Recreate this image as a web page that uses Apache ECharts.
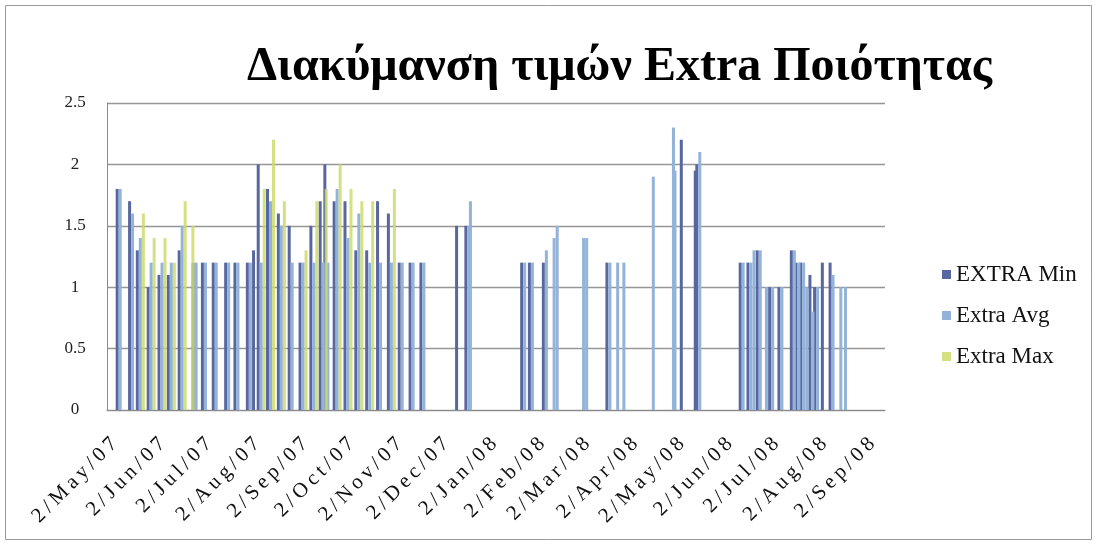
<!DOCTYPE html>
<html>
<head>
<meta charset="utf-8">
<script src="https://cdn.jsdelivr.net/npm/echarts@6/dist/echarts.min.js"></script>
<style>
  html, body { margin: 0; padding: 0; background: #ffffff; }
  #chart { width: 1099px; height: 547px; }
</style>
</head>
<body>
<div id="chart"></div>
<script>
// Price readings for "Extra" quality, one entry per observation date
const seriesNames = ['EXTRA Min', 'Extra Avg', 'Extra Max'];

const obsDates = [
  '2007-05-06', '2007-05-14', '2007-05-19', '2007-05-26', '2007-06-02', '2007-06-08',
  '2007-06-15', '2007-06-20', '2007-06-24', '2007-06-30', '2007-07-07', '2007-07-15',
  '2007-07-21', '2007-07-29', '2007-08-02', '2007-08-05', '2007-08-11', '2007-08-18',
  '2007-08-25', '2007-09-01', '2007-09-08', '2007-09-14', '2007-09-17', '2007-09-23',
  '2007-09-30', '2007-10-07', '2007-10-14', '2007-10-21', '2007-10-28', '2007-11-04',
  '2007-11-11', '2007-11-18', '2007-12-11', '2007-12-17', '2007-12-18', '2008-01-22',
  '2008-01-27', '2008-02-05', '2008-02-10', '2008-02-12', '2008-02-29', '2008-03-02',
  '2008-03-17', '2008-03-22', '2008-03-26', '2008-04-14', '2008-04-27', '2008-04-28',
  '2008-05-04', '2008-05-13', '2008-05-14', '2008-06-11', '2008-06-16', '2008-06-18',
  '2008-06-22', '2008-06-26', '2008-06-30', '2008-07-06', '2008-07-14', '2008-07-17',
  '2008-07-20', '2008-07-22', '2008-07-26', '2008-07-29', '2008-08-03', '2008-08-08',
  '2008-08-13', '2008-08-16'
];

const minVals = [
  1.8, 1.7, 1.3, 1.0, 1.1, 1.1,
  1.3, null, 1.2, 1.2, 1.2, 1.2,
  1.2, 1.2, 1.3, 2.0, 1.8, 1.6,
  1.5, 1.2, 1.5, 1.7, 2.0, 1.7,
  1.7, 1.3, 1.3, 1.7, 1.6, 1.2,
  1.2, 1.2, 1.5, 1.5, null, 1.2,
  1.2, 1.2, null, null, null, null,
  1.2, null, null, null, null, null,
  2.2, 1.95, 2.0, 1.2, 1.2, null,
  1.3, null, 1.0, 1.0, 1.3, 1.2,
  1.2, null, 1.1, 1.0, 1.2, 1.2,
  null, null
];

const avgVals = [
  1.8, 1.6, 1.4, 1.2, 1.2, 1.2,
  1.5, null, 1.2, 1.2, 1.2, 1.2,
  1.2, 1.2, null, 1.2, 1.7, 1.5,
  1.2, 1.2, 1.2, 1.2, 1.2, 1.8,
  1.4, 1.6, 1.2, 1.2, 1.2, 1.2,
  1.2, 1.2, null, 1.5, 1.7, 1.2,
  1.2, 1.3, 1.4, 1.5, 1.4, 1.4,
  1.2, 1.2, 1.2, 1.9, 2.3, 1.95,
  null, null, 2.1, 1.2, 1.2, 1.3,
  1.3, 1.0, 1.0, 1.0, 1.3, 1.2,
  1.2, 1.0, 0.8, 1.0, null, 1.1,
  1.0, 1.0
];

const maxVals = [
  null, null, 1.6, 1.4, 1.4, 1.2,
  1.7, 1.5, null, null, null, null,
  null, null, null, 1.8, 2.2, 1.7,
  null, 1.3, 1.7, 1.8, null, 2.0,
  1.8, 1.7, 1.7, null, 1.8, null,
  null, null, null, null, null, null,
  null, null, null, null, null, null,
  null, null, null, null, null, null,
  null, null, null, null, null, null,
  null, null, null, null, null, null,
  null, null, null, null, null, null,
  null, null
];

const axisStart = [2007, 4, 28];   // year, month, day
const axisEnd = [2008, 9, 10];
const monthNames = ['Jan', 'Feb', 'Mar', 'Apr', 'May', 'Jun', 'Jul', 'Aug', 'Sep', 'Oct', 'Nov', 'Dec'];
const colors = ['#5867a0', '#93b3d9', '#cdda6c'];

// one category per calendar day so the axis behaves like a date axis
const days = [];
for (let t = Date.UTC(axisStart[0], axisStart[1] - 1, axisStart[2]);
     t <= Date.UTC(axisEnd[0], axisEnd[1] - 1, axisEnd[2]); t += 86400000) {
  days.push(new Date(t).toISOString().slice(0, 10));
}

function toDaily(vals) {
  const byDate = {};
  obsDates.forEach((d, i) => { if (vals[i] != null) byDate[d] = vals[i]; });
  return days.map(d => (d in byDate ? byDate[d] : null));
}

// "2/May/07" style, letter-spaced with thin spaces
function dayLabel(value) {
  const p = value.split('-');
  const txt = (+p[2]) + '/' + monthNames[+p[1] - 1] + '/' + p[0].slice(2);
  return txt.split('').join('\u2009');
}

const serif = '"Liberation Serif", "DejaVu Serif", serif';
const chart = echarts.init(document.getElementById('chart'));

chart.setOption({
  animation: false,
  backgroundColor: '#ffffff',
  title: {
    text: 'Διακύμανση τιμών Extra Ποιότητας',
    left: 242,
    top: 39,
    textStyle: { fontFamily: serif, fontWeight: 'bold', fontSize: 48, color: '#000' }
  },
  legend: {
    orient: 'vertical',
    left: 937,
    top: 258,
    itemGap: 18,
    itemWidth: 9,
    itemHeight: 9,
    icon: 'rect',
    textStyle: { fontFamily: serif, fontSize: 23, color: '#111' },
    data: seriesNames
  },
  grid: { left: 107, right: 214, top: 103, bottom: 137 },
  xAxis: {
    type: 'category',
    data: days,
    boundaryGap: true,
    axisLine: { lineStyle: { color: '#8a8a8a', width: 1 } },
    axisTick: { show: false },
    axisLabel: {
      interval: (idx, value) => value.endsWith('-02'),
      formatter: dayLabel,
      rotate: 45,
      margin: 31,
      fontFamily: serif,
      fontSize: 21,
      color: '#111'
    }
  },
  yAxis: {
    type: 'value',
    min: 0,
    max: 2.5,
    interval: 0.5,
    axisLine: { show: true, lineStyle: { color: '#8a8a8a' } },
    axisTick: { show: false },
    splitLine: { lineStyle: { color: '#969696', width: 1.3 } },
    axisLabel: { fontFamily: serif, fontSize: 17, color: '#222', margin: 32, align: 'center' }
  },
  graphic: [{
    type: 'rect',
    shape: { x: 5.5, y: 5.5, width: 1086, height: 534 },
    style: { fill: 'none', stroke: '#9a9a9a', lineWidth: 1 },
    silent: true
  }],
  series: [minVals, avgVals, maxVals].map((vals, i) => ({
    name: seriesNames[i],
    type: 'bar',
    data: toDaily(vals),
    barWidth: 3,
    barGap: '0%',
    itemStyle: { color: colors[i], opacity: i === 2 ? 0.85 : 1 }
  }))
});
</script>
</body>
</html>
